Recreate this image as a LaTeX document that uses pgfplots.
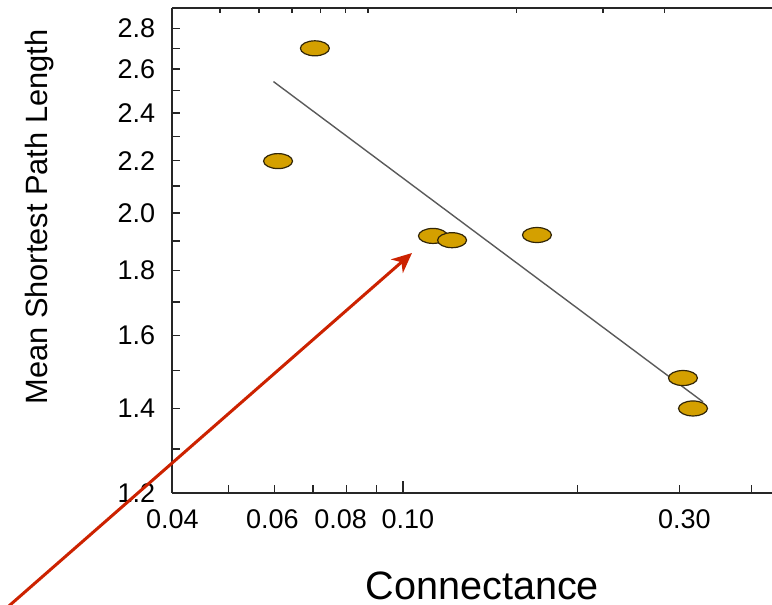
\documentclass[border=0pt]{standalone}
\usepackage{pgfplots}
\pgfplotsset{compat=1.18}
\usepackage{fontspec}
\setmainfont{Liberation Sans}
\usetikzlibrary{calc,arrows.meta}

\definecolor{dotfill}{RGB}{212,160,0}
\definecolor{dotedge}{RGB}{50,38,8}
\definecolor{arrowred}{RGB}{204,34,0}
\definecolor{fitgray}{RGB}{90,90,90}

% regression points (connectance, mean shortest path length)
\pgfplotstableread{
x y
0.0705 2.70
0.0609 2.198
0.1127 1.918
0.1216 1.903
0.1704 1.921
0.3044 1.480
0.3168 1.400
}\pointdata

\begin{document}
\begin{tikzpicture}
\begin{axis}[
  name=ax,
  scale only axis,
  width=299.85pt, height=242.5pt,
  xmode=log, ymode=log,
  xmin=0.04, xmax=0.4336,
  ymin=1.2, ymax=2.906,
  axis x line*=bottom, axis y line*=left,
  axis line style={black!85, line width=0.9pt, -},
  tick align=inside,
  tick style={black!85, line width=0.7pt},
  major tick length=4pt, minor tick length=4pt,
  xtick={0.04,0.06,0.08,0.1,0.3},
  xticklabels={0.04,{\kern-2pt0.06},{\kern-6pt0.08},{\kern5pt0.10},{\kern5pt0.30}},
  minor xtick={0.05,0.07,0.09,0.2,0.4},
  extra x ticks={0.1},
  extra x tick labels={},
  extra x tick style={major tick length=6pt},
  ytick={1.2,1.4,1.6,1.8,2.0,2.2,2.4,2.6,2.8},
  yticklabels={1.2,1.4,1.6,1.8,2.0,2.2,2.4,2.6,2.8},
  minor ytick={1.3,1.5,1.7,1.9,2.1,2.3,2.5,2.7},
  ticklabel style={font=\fontsize{13.5}{16}\selectfont},
  xticklabel style={yshift=-5pt},
  yticklabel style={xshift=-5pt},
  xlabel={Connectance},
  ylabel={Mean Shortest Path Length},
  xlabel style={font=\fontsize{19.8}{24}\selectfont, inner sep=0pt, at={(axis description cs:0.517,-0.2186)}, anchor=base},
  ylabel style={font=\fontsize{15.4}{18}\selectfont, inner sep=0pt, at={(axis description cs:-0.208,0.569)}, anchor=base},
  clip=false,
]
\addplot[fitgray, line width=0.7pt] coordinates {(0.0598,2.541) (0.3296,1.417)};
\addplot[only marks, mark=*, mark size=3.75pt,
  mark options={xscale=1.93, fill=dotfill, draw=dotedge, line width=0.6pt}]
  table[x=x, y=y] {\pointdata};
\draw[arrowred, line width=1.5pt, -{Stealth[length=10pt, width=9pt, inset=3pt]}]
  (axis cs:0.01977,0.955) -- (axis cs:0.1037,1.859);
\coordinate (bl) at (rel axis cs:0,0);
\coordinate (tr) at (rel axis cs:1,1);
\end{axis}
% top axis with its own log ticks
\begin{axis}[
  scale only axis,
  width=299.85pt, height=242.5pt,
  xmode=log,
  xmin=4, xmax=66.2, ymin=0, ymax=1,
  axis x line*=top, axis y line=none,
  axis line style={black!85, line width=0.9pt, -},
  tick align=inside,
  tick style={black!85, line width=0.7pt},
  major tick length=2.5pt,
  xtick={5,6,7,8,9,10,20,30,40},
  xticklabels={},
  minor xtick={},
]
\end{axis}
\pgfresetboundingbox
\path ($(bl)+(-86.15pt,-56pt)$) rectangle ($(tr)+(0,4pt)$);
\end{tikzpicture}
\end{document}
